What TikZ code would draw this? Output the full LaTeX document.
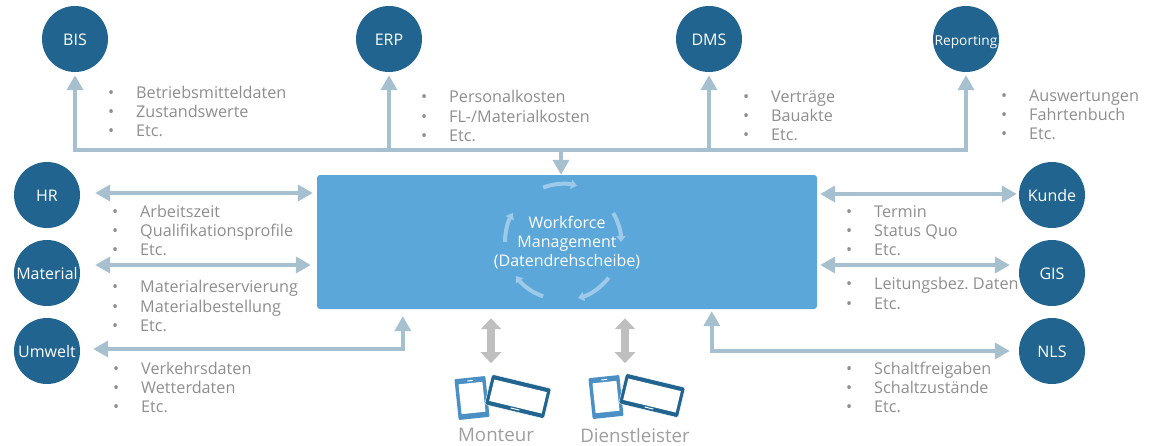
\documentclass[tikz,border=0pt]{standalone}
\usepackage{fontspec}
\setmainfont{Open Sans}
\usepackage{xcolor}
\definecolor{circleblue}{HTML}{20648F}
\definecolor{boxblue}{HTML}{5BA7DA}
\definecolor{linkblue}{HTML}{A6C0D0}
\definecolor{phoneblue}{HTML}{4A90C4}
\definecolor{listgray}{HTML}{8E8E8E}
\usetikzlibrary{positioning,arrows.meta,calc}
\tikzset{
	system/.style={circle,fill=circleblue,text=white,minimum size=66pt,inner sep=0pt,text height=13pt,text depth=0pt,font=\fontsize{16}{18}\selectfont},
	mainbox/.style={rectangle,rounded corners=3pt,fill=boxblue,minimum width=500pt,minimum height=134pt},
	boxtext/.style={text=white,inner sep=0pt,align=center,font=\fontsize{16}{19.3}\selectfont},
	infolist/.style={anchor=west,inner sep=0pt,text=listgray,align=left,font=\fontsize{16.2}{19.2}\selectfont},
	link/.style={draw=linkblue,line width=4pt,-{Triangle[length=15pt,width=16pt]}},
	biglink/.style={draw=linkblue,line width=4pt,{Triangle[length=15pt,width=16pt]}-{Triangle[length=15pt,width=16pt]}},
	graylink/.style={draw=black!25,line width=8pt,{Triangle[length=11pt,width=20pt]}-{Triangle[length=11pt,width=20pt]}},
	turn/.style={draw=white!40!boxblue,line width=4pt,-{Triangle[length=6pt,width=9pt]}},
	phonebody/.style={rectangle,rounded corners=1pt,fill=phoneblue,minimum width=31pt,minimum height=41pt,inner sep=0pt,rotate=6},
	phonescreen/.style={rectangle,fill=white,minimum width=24pt,minimum height=30pt,inner sep=0pt,rotate=6},
	tabletbody/.style={rectangle,rounded corners=1.5pt,draw=white,fill=circleblue,minimum width=61pt,minimum height=31pt,inner sep=0pt,rotate=-13.5},
	tabletscreen/.style={rectangle,fill=white,minimum width=54pt,minimum height=22pt,inner sep=0pt,rotate=-13.5},
	devicelabel/.style={text=black!38,inner sep=0pt,font=\fontsize{18.7}{20}\selectfont},
}
\newcommand{\li}[1]{\makebox[28pt][l]{•}#1}
\frenchspacing
\begin{document}
\begin{tikzpicture}[x=1pt,y=-1pt]
	\useasboundingbox (0,0) rectangle (1152,445);

	% draw nodes
	\node[mainbox] (box) at (567,242) {};
	\node[boxtext] (boxlabel) at (567,242.5) {Workforce\\Management\\(Datendrehscheibe)};
	\node[system] (bis) at (75,39) {BIS};
	\node[system] (erp) at (389,39) {ERP};
	\node[system] (dms) at (709,39) {DMS};
	\node[system,font=\fontsize{13.7}{16}\selectfont] (reporting) at (966,39) {Reporting};
	\node[system] (hr) at (47,195) {HR};
	\node[system] (material) at (47,273) {Material};
	\node[system] (umwelt) at (47,351) {Umwelt};
	\node[system] (kunde) at (1052,195) {Kunde};
	\node[system] (gis) at (1052,273) {GIS};
	\node[system] (nls) at (1052,351) {NLS};

	% draw lists
	\node[infolist] (bislist) at (108,111.5) {\li{Betriebsmitteldaten}\\\li{Zustandswerte}\\\li{Etc.}};
	\node[infolist] (erplist) at (421,116) {\li{Personalkosten}\\\li{FL-/Materialkosten}\\\li{Etc.}};
	\node[infolist] (dmslist) at (743,116) {\li{Verträge}\\\li{Bauakte}\\\li{Etc.}};
	\node[infolist] (reportinglist) at (1001,115) {\li{Auswertungen}\\\li{Fahrtenbuch}\\\li{Etc.}};
	\node[infolist] (hrlist) at (112,230.5) {\li{Arbeitszeit}\\\li{Qualifikationsprofile}\\\li{Etc.}};
	\node[infolist] (materiallist) at (112,306) {\li{Materialreservierung}\\\li{Materialbestellung}\\\li{Etc.}};
	\node[infolist] (umweltlist) at (113,387.5) {\li{Verkehrsdaten}\\\li{Wetterdaten}\\\li{Etc.}};
	\node[infolist] (kundelist) at (846,230.5) {\li{Termin}\\\li{Status Quo}\\\li{Etc.}};
	\node[infolist] (gislist) at (846,293.5) {\li{Leitungsbez. Daten}\\\li{Etc.}};
	\node[infolist] (nlslist) at (846,387.5) {\li{Schaltfreigaben}\\\li{Schaltzustände}\\\li{Etc.}};

	% top bus
	\coordinate (bus) at (561,150);
	\draw[linkblue,line width=4pt,line cap=rect] (bis.south |- bus) -- (reporting.south |- bus);
	\foreach \sys in {bis,erp,dms,reporting}
		\draw[link,shorten >=3pt] (\sys.south |- bus) -- (\sys.south);
	\draw[link] (bus) -- (bus |- box.north);

	% left and right arrows
	\draw[biglink,shorten <=15pt,shorten >=4pt] ([yshift=2pt]hr.east) -- ([yshift=2pt]hr.east -| box.west);
	\draw[biglink,shorten <=15pt,shorten >=6pt] ([yshift=8pt]material.east) -- ([yshift=8pt]material.east -| box.west);
	\draw[biglink,shorten <=13pt,shorten >=7pt] ([yshift=2pt]umwelt.east) -| ([xshift=86pt]box.south west);
	\draw[biglink,shorten <=3pt,shorten >=2pt] ([yshift=1pt]kunde.west -| box.east) -- ([yshift=1pt]kunde.west);
	\draw[biglink,shorten <=3pt,shorten >=9pt] ([yshift=8pt]gis.west -| box.east) -- ([yshift=8pt]gis.west);
	\draw[biglink,shorten <=2pt,shorten >=9pt] ([xshift=395pt]box.south west) |- (nls.west);

	% turning arrows
	\coordinate (turncentre) at (563,242);
	\foreach \from/\to in {250/284,-30/0,38/75,110/144,180/210}
		\draw[turn] ($(turncentre)+(\from:58)$) arc[start angle=\from,end angle=\to,radius=58];

	% devices
	\foreach \dev/\dx/\dy in {monteur/0/0,dienst/134/-1}{
		\begin{scope}[shift={(\dx,\dy)}]
			\node[phonebody] (\dev phone) at (472,398) {};
			\node[phonescreen] (\dev phonescreen) at (472,398) {};
			\draw[white,line width=1pt] ($(\dev phone.north west)!.4!(\dev phone.north east)!.08!(\dev phone.south)$) -- ($(\dev phone.north west)!.6!(\dev phone.north east)!.08!(\dev phone.south)$);
			\node[tabletbody] (\dev tablet) at (518,396.5) {};
			\node[tabletscreen] (\dev tabletscreen) at (518,396.5) {};
			\draw[white,line width=1pt] ($(\dev tablet.south west)!.42!(\dev tablet.south east)!.09!(\dev tablet.north)$) -- ($(\dev tablet.south west)!.58!(\dev tablet.south east)!.09!(\dev tablet.north)$);
		\end{scope}
	}
	\node[devicelabel] (monteur) at (496,435) {Monteur};
	\node[devicelabel] (dienstleister) at (635,435) {Dienstleister};
	\draw[graylink] (monteur |- box.south) ++(-5,9) -- ++(0,45);
	\draw[graylink] (dienstleister |- box.south) ++(-10,9) -- ++(0,45);
\end{tikzpicture}
\end{document}
